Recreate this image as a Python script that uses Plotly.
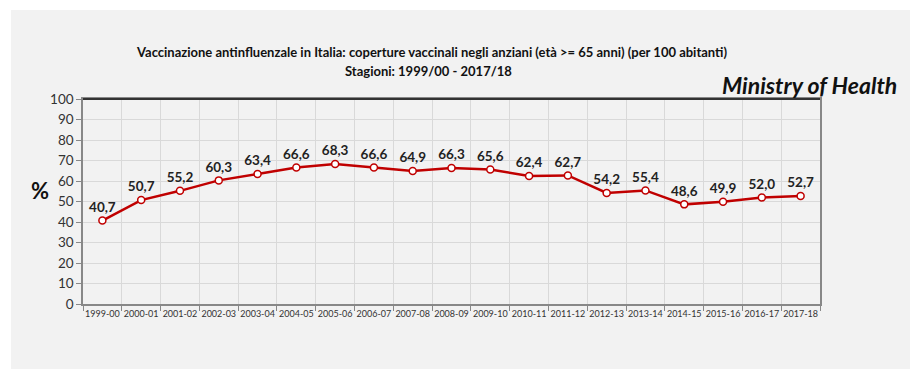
import plotly.graph_objects as go

seasons = ["1999-00", "2000-01", "2001-02", "2002-03", "2003-04", "2004-05", "2005-06",
           "2006-07", "2007-08", "2008-09", "2009-10", "2010-11", "2011-12", "2012-13",
           "2013-14", "2014-15", "2015-16", "2016-17", "2017-18"]
coverage = [40.7, 50.7, 55.2, 60.3, 63.4, 66.6, 68.3, 66.6, 64.9, 66.3, 65.6, 62.4, 62.7,
            54.2, 55.4, 48.6, 49.9, 52.0, 52.7]
labels = [f"{v:.1f}".replace(".", ",") for v in coverage]
yticks = list(range(0, 101, 10))

FONT = "Lato"
OFF = 8  # page body margin offset
L, T, PW, PH = 83 - OFF, 99 - OFF, 737, 205
W, H = 918 - OFF, 369 - OFF


def px(x):
    return (x - 83) / PW


def py(y):
    return (304 - y) / PH


fig = go.Figure()
fig.add_trace(go.Scatter(
    x=seasons, y=coverage, mode="lines+markers+text",
    line=dict(color="#c00000", width=2.5),
    marker=dict(size=7, color="white", line=dict(color="#c00000", width=1.5)),
    text=labels, textposition="top center",
    textfont=dict(family=FONT, size=13.5, color="#222222", weight="bold"),
    cliponaxis=False, hoverinfo="skip", showlegend=False,
))

fig.update_layout(
    width=W, height=H,
    margin=dict(l=L, r=W - L - PW, t=T, b=H - T - PH, autoexpand=False),
    paper_bgcolor="white", plot_bgcolor="#f2f2f2",
    font=dict(family=FONT, color="#333333"),
    shapes=[
        dict(type="rect", xref="paper", yref="paper", x0=px(11), x1=px(930),
             y0=py(380), y1=py(10), fillcolor="#f2f2f2", line=dict(width=0), layer="below"),
        dict(type="line", xref="paper", yref="paper", x0=0, x1=1, y0=1, y1=1,
             line=dict(color="#333333", width=2)),
    ],
    annotations=[
        dict(text="Vaccinazione antinfluenzale in Italia: coperture vaccinali negli anziani (età >= 65 anni) (per 100 abitanti)",
             xref="paper", yref="paper", x=px(431), y=py(52), showarrow=False,
             xanchor="center", yanchor="middle",
             font=dict(family=FONT, size=13, color="#111111", weight="bold")),
        dict(text="Stagioni: 1999/00 - 2017/18",
             xref="paper", yref="paper", x=px(428), y=py(71), showarrow=False,
             xanchor="center", yanchor="middle",
             font=dict(family=FONT, size=13, color="#111111", weight="bold")),
        dict(text="<i>Ministry of Health</i>",
             xref="paper", yref="paper", x=px(899), y=py(85), showarrow=False,
             xanchor="right", yanchor="middle",
             font=dict(family=FONT, size=23, color="#111111", weight="bold")),
        dict(text="%", xref="paper", yref="paper", x=px(40), y=py(190),
             showarrow=False, xanchor="center", yanchor="middle",
             font=dict(family=FONT, size=22, color="#111111", weight="bold")),
    ],
)

fig.update_xaxes(
    type="category", tickson="boundaries", showgrid=True, gridcolor="#d9d9d9", gridwidth=1,
    ticks="outside", ticklen=5, tickcolor="#888888", tickangle=0, automargin=False,
    showline=True, linecolor="#888888", linewidth=1.5, mirror=True,
    tickfont=dict(family=FONT, size=9, color="#333333"),
    range=[-0.5, len(seasons) - 0.5],
)
fig.update_yaxes(
    range=[0, 100], tickvals=yticks, showgrid=True, gridcolor="#d9d9d9", gridwidth=1,
    ticks="outside", ticklen=5, tickcolor="#888888", automargin=False,
    showline=True, linecolor="#888888", linewidth=1.5, mirror=True,
    tickfont=dict(family=FONT, size=13.5, color="#333333"), zeroline=False,
)

fig.write_html("out.html")
